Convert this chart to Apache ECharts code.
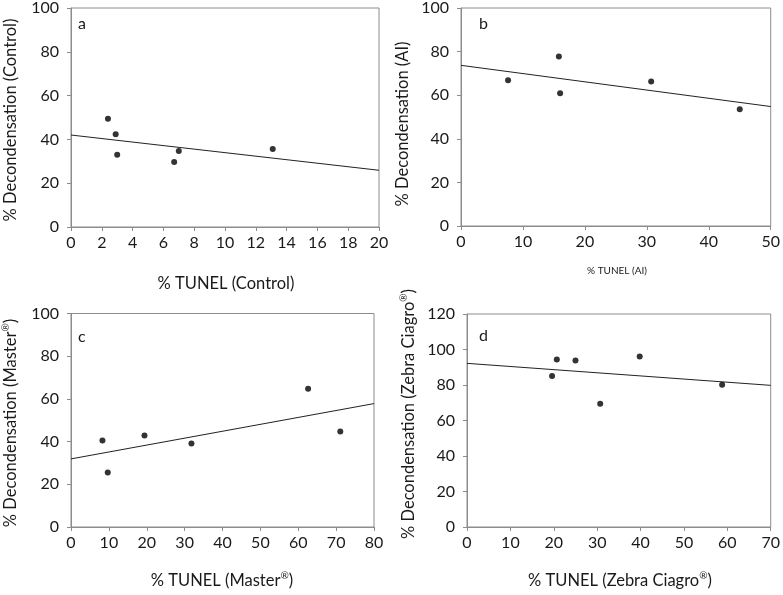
<!DOCTYPE html>
<html><head><meta charset="utf-8">
<script src="https://cdn.jsdelivr.net/npm/echarts@6/dist/echarts.min.js"></script>
<style>html,body{margin:0;padding:0;background:#fff}#c{width:783px;height:595px}</style>
</head><body><div id="c"></div>
<script>
// Panel a: Control
const tunelA = [2.4, 2.9, 3.0, 6.7, 7.0, 13.1];
const decondA = [49.4, 42.3, 33.0, 29.7, 34.7, 35.6];
const trendA = [[0, 42.0], [20, 25.9]];
// Panel b: AI
const tunelB = [7.6, 15.8, 16.0, 30.7, 45.0];
const decondB = [66.9, 77.8, 60.9, 66.3, 53.6];
const trendB = [[0, 73.7], [50, 54.8]];
// Panel c: Master
const tunelC = [8.3, 9.7, 19.4, 31.8, 62.6, 71.1];
const decondC = [40.5, 25.5, 42.8, 39.1, 64.7, 44.7];
const trendC = [[0, 31.9], [80, 57.8]];
// Panel d: Zebra Ciagro
const tunelD = [19.6, 20.7, 25.0, 30.7, 39.8, 58.8];
const decondD = [85.1, 94.4, 93.8, 69.4, 96.0, 80.2];
const trendD = [[0, 92.2], [70, 79.8]];

const xTitles = ['% TUNEL (Control)', '% TUNEL (AI)', '% TUNEL (Master{s|®})', '% TUNEL (Zebra Ciagro{s|®})'];
const yTitles = ['% Decondensation (Control)', '% Decondensation (AI)', '% Decondensation (Master{s|®})', '% Decondensation (Zebra Ciagro{s|®})'];
const letters = ['a', 'b', 'c', 'd'];
const xMax = [20, 50, 80, 70];
const xStep = [2, 10, 10, 10];
const yMax = [100, 100, 100, 120];
const yStep = [20, 20, 20, 20];

const FONT = 'Lato';
const AX = '#8c8c8c';
const TXT = '#1a1a1a';
const grids = [
  {left: 71, right: 404, top: 7.5, bottom: 368},
  {left: 461, right: 11, top: 7.5, bottom: 369},
  {left: 71, right: 409, top: 313.5, bottom: 68},
  {left: 467, right: 11, top: 314, bottom: 68}
];
const xs = [tunelA, tunelB, tunelC, tunelD];
const ys = [decondA, decondB, decondC, decondD];
const trends = [trendA, trendB, trendC, trendD];

function txt(text, x, y, size, rot) {
  const el = {type: 'text', x: x, y: y, style: {
    text: text, fontFamily: FONT, fontSize: size, fill: TXT, align: 'center', verticalAlign: 'middle',
    rich: {s: {fontFamily: FONT, fontSize: Math.round(size * 0.6), fill: TXT, verticalAlign: 'top', lineHeight: size * 1.2}}
  }};
  if (rot) el.rotation = Math.PI / 2;
  return el;
}

const option = {
  animation: false,
  backgroundColor: '#fff',
  grid: grids.map(g => Object.assign({show: true, borderColor: AX, borderWidth: 1, backgroundColor: 'transparent'}, g)),
  xAxis: grids.map((g, i) => ({
    gridIndex: i, type: 'value', min: 0, max: xMax[i], interval: xStep[i],
    axisLine: {show: true, lineStyle: {color: AX, width: 1}},
    axisTick: {show: true, inside: false, length: 4, lineStyle: {color: AX}},
    axisLabel: {color: TXT, fontFamily: FONT, fontSize: 16, margin: 8},
    splitLine: {show: false}
  })),
  yAxis: grids.map((g, i) => ({
    gridIndex: i, type: 'value', min: 0, max: yMax[i], interval: yStep[i],
    axisLine: {show: true, lineStyle: {color: AX, width: 1}},
    axisTick: {show: true, inside: false, length: 4, lineStyle: {color: AX}},
    axisLabel: {color: TXT, fontFamily: FONT, fontSize: 16, margin: 12},
    splitLine: {show: false}
  })),
  series: [].concat(
    xs.map((x, i) => ({
      type: 'scatter', xAxisIndex: i, yAxisIndex: i, symbol: 'circle', symbolSize: 6,
      itemStyle: {color: '#000'}, data: x.map((v, k) => [v, ys[i][k]])
    })),
    trends.map((t, i) => ({
      type: 'line', xAxisIndex: i, yAxisIndex: i, showSymbol: false, symbol: 'none',
      lineStyle: {color: '#222', width: 1}, data: t, z: 1
    }))
  ),
  graphic: [
    {type: 'text', left: 78, top: 16, style: {text: letters[0], font: '16px ' + FONT, fill: TXT}},
    {type: 'text', left: 479, top: 16, style: {text: letters[1], font: '16px ' + FONT, fill: TXT}},
    {type: 'text', left: 78, top: 329, style: {text: letters[2], font: '16px ' + FONT, fill: TXT}},
    {type: 'text', left: 479, top: 328, style: {text: letters[3], font: '16px ' + FONT, fill: TXT}},
    txt(xTitles[0], 226, 284, 16.5, false),
    txt(xTitles[1], 617, 271, 10, false),
    txt(xTitles[2], 222, 581, 16.5, false),
    txt(xTitles[3], 620, 581, 16.5, false),
    txt(yTitles[0], 11, 120, 16.5, true),
    txt(yTitles[1], 403, 124, 16.5, true),
    txt(yTitles[2], 11, 423, 16.5, true),
    txt(yTitles[3], 409, 414, 16.5, true)
  ]
};
const chart = echarts.init(document.getElementById('c'), null, {renderer: 'canvas'});
chart.setOption(option);
</script></body></html>
